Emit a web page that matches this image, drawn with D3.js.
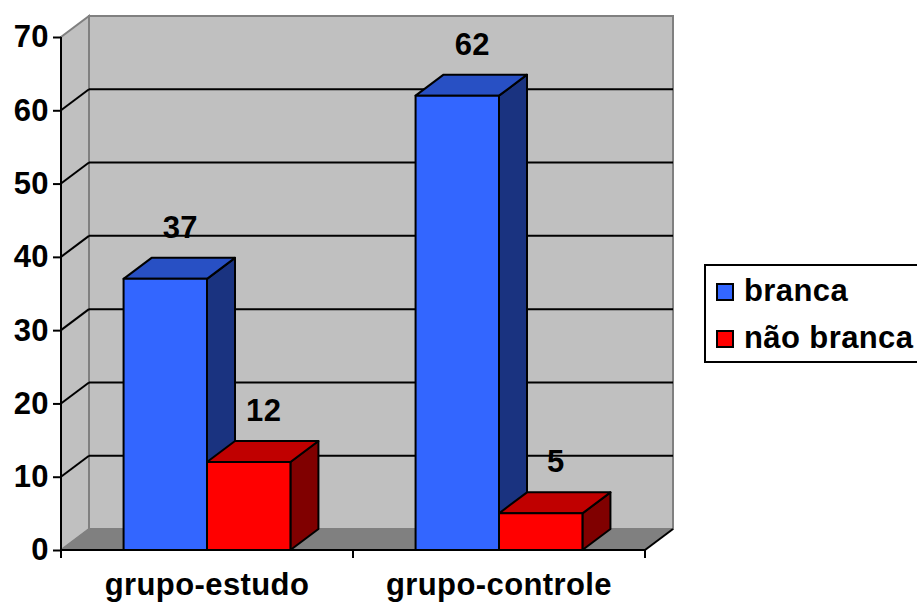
<!DOCTYPE html>
<html>
<head>
<meta charset="utf-8">
<script src="https://cdn.jsdelivr.net/npm/d3@7"></script>
<style>
  html, body { margin: 0; padding: 0; background: #ffffff; }
  svg { display: block; }
  text { font-family: "Liberation Sans", Arial, sans-serif; font-weight: bold; fill: #000; letter-spacing: 0.4px; }
</style>
</head>
<body>
<svg id="chart" width="917" height="605"></svg>
<script>
// Data
const categories = ["grupo-estudo", "grupo-controle"];
const seriesNames = ["branca", "não branca"];
const branca = [37, 62];
const naoBranca = [12, 5];
const yTicks = [0, 10, 20, 30, 40, 50, 60, 70];

// Colours per series: front, top, side faces
const palette = [
  { front: "#3366FF", top: "#2850C4", side: "#1A3380" },
  { front: "#FF0000", top: "#C00000", side: "#800000" }
];

const fontSize = 31;
const svg = d3.select("#chart");

// Front plane of the 3D box and the depth offset
const plot = { left: 61, right: 645, top: 37, bottom: 550 };
const depth = { dx: 28, dy: -21 };

const y = d3.scaleLinear().domain([0, 70]).range([plot.bottom, plot.top]);
const x0 = d3.scaleBand().domain(categories).range([plot.left, plot.right]).paddingInner(0).paddingOuter(0);
// bars take 2 of 3.5 units of each category (gap width 150%)
const barW = x0.bandwidth() / 3.5;
const x1 = d3.scaleBand().domain(seriesNames).range([0.75 * barW, 2.75 * barW]).padding(0);

const walls = svg.append("g");
const wallGrey = "#C0C0C0", edgeGrey = "#808080";

// Back wall
walls.append("rect")
  .attr("x", plot.left + depth.dx)
  .attr("y", plot.top + depth.dy)
  .attr("width", plot.right - plot.left)
  .attr("height", plot.bottom - plot.top)
  .attr("fill", wallGrey)
  .attr("stroke", edgeGrey).attr("stroke-width", 2);

// Side wall (left)
walls.append("path")
  .attr("d", d3.line()([
    [plot.left, plot.bottom],
    [plot.left + depth.dx, plot.bottom + depth.dy],
    [plot.left + depth.dx, plot.top + depth.dy],
    [plot.left, plot.top]
  ]) + "Z")
  .attr("fill", wallGrey)
  .attr("stroke", edgeGrey).attr("stroke-width", 2);

// Floor
walls.append("path")
  .attr("d", d3.line()([
    [plot.left, plot.bottom],
    [plot.right, plot.bottom],
    [plot.right + depth.dx, plot.bottom + depth.dy],
    [plot.left + depth.dx, plot.bottom + depth.dy]
  ]) + "Z")
  .attr("fill", edgeGrey)
  .attr("stroke", edgeGrey).attr("stroke-width", 1);

// Gridlines on side wall and back wall
const gridVals = yTicks.filter(v => v > 0 && v < 70);
const grid = svg.append("g").attr("stroke", "#000").attr("stroke-width", 2).attr("fill", "none");
grid.selectAll("path.side").data(gridVals).join("path")
  .attr("class", "side")
  .attr("d", v => d3.line()([[plot.left, y(v)], [plot.left + depth.dx, y(v) + depth.dy]]));
grid.selectAll("line.back").data(gridVals).join("line")
  .attr("class", "back")
  .attr("x1", plot.left + depth.dx).attr("x2", plot.right + depth.dx)
  .attr("y1", v => y(v) + depth.dy).attr("y2", v => y(v) + depth.dy);

// Y axis
const yAxis = svg.append("g")
  .attr("transform", `translate(${plot.left},0)`)
  .call(d3.axisLeft(y).tickValues(yTicks).tickSize(8).tickPadding(4).tickFormat(d3.format("d")));
yAxis.select(".domain").attr("stroke", "#000").attr("stroke-width", 2)
  .attr("d", `M0,${plot.top}V${plot.bottom + 8}`);
yAxis.selectAll(".tick line").attr("stroke", "#000").attr("stroke-width", 2);
yAxis.selectAll(".tick text").attr("font-size", fontSize).attr("font-family", "Liberation Sans, Arial, sans-serif")
  .attr("font-weight", "bold").attr("fill", "#000");

// X axis (front floor edge)
const xAxis = svg.append("g")
  .attr("transform", `translate(0,${plot.bottom})`);
xAxis.append("line")
  .attr("x1", plot.left).attr("x2", plot.right)
  .attr("stroke", "#000").attr("stroke-width", 2);
const xTickPos = [plot.left, ...categories.map(c => x0(c) + x0.bandwidth())];
xAxis.selectAll("line.tick").data(xTickPos).join("line")
  .attr("class", "tick")
  .attr("x1", d => d).attr("x2", d => d).attr("y1", 0).attr("y2", 8)
  .attr("stroke", "#000").attr("stroke-width", 2);
xAxis.append("line")
  .attr("x1", plot.right).attr("y1", 0)
  .attr("x2", plot.right + depth.dx).attr("y2", depth.dy)
  .attr("stroke", "#000").attr("stroke-width", 2);
xAxis.selectAll("text").data(categories).join("text")
  .attr("x", c => x0(c) + x0.bandwidth() / 2)
  .attr("y", 45)
  .attr("text-anchor", "middle")
  .attr("font-size", fontSize)
  .text(c => c);

// Bars as 3D boxes
const rows = [];
categories.forEach((c, i) => {
  [branca[i], naoBranca[i]].forEach((v, s) => rows.push({ cat: c, series: seriesNames[s], s, v }));
});

const bars = svg.append("g").attr("stroke", "#000").attr("stroke-width", 2).attr("stroke-linejoin", "round");
rows.forEach(d => {
  const xl = x0(d.cat) + x1(d.series);
  const xr = xl + x1.bandwidth();
  const yt = y(d.v), yb = y(0);
  const g = bars.append("g");
  const col = palette[d.s];
  // side face
  g.append("path")
    .attr("d", d3.line()([[xr, yb], [xr + depth.dx, yb + depth.dy], [xr + depth.dx, yt + depth.dy], [xr, yt]]) + "Z")
    .attr("fill", col.side);
  // top face
  g.append("path")
    .attr("d", d3.line()([[xl, yt], [xr, yt], [xr + depth.dx, yt + depth.dy], [xl + depth.dx, yt + depth.dy]]) + "Z")
    .attr("fill", col.top);
  // front face
  g.append("rect")
    .attr("x", xl).attr("y", yt).attr("width", xr - xl).attr("height", yb - yt)
    .attr("fill", col.front);
  // value label
  svg.append("text")
    .attr("x", (xl + xr) / 2 + depth.dx / 2 + 1)
    .attr("y", yt + depth.dy - 20)
    .attr("text-anchor", "middle")
    .attr("font-size", fontSize)
    .text(d.v);
});

// Legend
const legend = svg.append("g");
legend.append("rect")
  .attr("x", 705).attr("y", 265).attr("width", 240).attr("height", 97)
  .attr("fill", "#fff").attr("stroke", "#000").attr("stroke-width", 2);
seriesNames.forEach((name, i) => {
  const ly = 284 + i * 47;
  legend.append("rect")
    .attr("x", 717).attr("y", ly).attr("width", 16).attr("height", 16)
    .attr("fill", palette[i].front).attr("stroke", "#000").attr("stroke-width", 2);
  legend.append("text")
    .attr("x", 744).attr("y", ly + 17)
    .attr("font-size", fontSize)
    .text(name);
});
</script>
</body>
</html>
